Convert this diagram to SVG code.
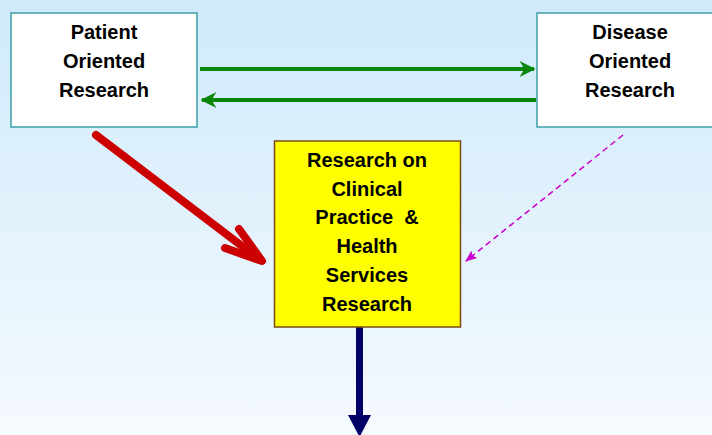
<svg xmlns="http://www.w3.org/2000/svg" width="712" height="435" viewBox="0 0 712 435">
<defs>
<linearGradient id="bg" x1="0" y1="0" x2="0" y2="1">
<stop offset="0" stop-color="#cfeafb"/>
<stop offset="1" stop-color="#f5fafe"/>
</linearGradient>
<marker id="gh" viewBox="0 0 10 10" refX="9" refY="5" markerWidth="5" markerHeight="4" orient="auto" markerUnits="strokeWidth">
<path d="M0,0 L10,5 L0,10 L3,5 Z" fill="#0a870a"/>
</marker>
<marker id="mh" viewBox="0 0 10 10" refX="9" refY="5" markerWidth="8" markerHeight="8" orient="auto" markerUnits="strokeWidth">
<path d="M0,1 L10,5 L0,9 L2,5 Z" fill="#cc00cc"/>
</marker>
<style>
.box{fill:#ffffff;stroke:#3a9fa8;stroke-width:1.5}
.t{font-family:"Liberation Sans",Arial,sans-serif;font-weight:bold;font-size:20px;fill:#000;text-anchor:middle}
</style>
</defs>
<rect x="0" y="0" width="712" height="435" fill="url(#bg)"/>
<g id="connectors">
<line x1="200" y1="69" x2="534" y2="69" stroke="#0a870a" stroke-width="4" marker-end="url(#gh)"/>
<line x1="536" y1="100" x2="202" y2="100" stroke="#0a870a" stroke-width="4" marker-end="url(#gh)"/>
<g stroke="#cc0000" stroke-width="8" stroke-linecap="round" stroke-linejoin="round" fill="none">
<line x1="96" y1="135" x2="259" y2="259"/>
<polyline points="239,229 262,261 225,248"/>
</g>
<line x1="623" y1="135" x2="466" y2="261" stroke="#cc00cc" stroke-width="1.5" stroke-dasharray="6,4" marker-end="url(#mh)"/>
<line x1="359.5" y1="327" x2="359.5" y2="416" stroke="#000066" stroke-width="7"/>
<polygon points="348,415 371,415 359.5,437" fill="#000066"/>
</g>
<g id="patient">
<rect class="box" x="11" y="13" width="186" height="114"/>
<text class="t" x="104" y="39">Patient</text>
<text class="t" x="104" y="68">Oriented</text>
<text class="t" x="104" y="97">Research</text>
</g>
<g id="disease">
<rect class="box" x="537" y="13" width="190" height="114"/>
<text class="t" x="630" y="39">Disease</text>
<text class="t" x="630" y="68">Oriented</text>
<text class="t" x="630" y="97">Research</text>
</g>
<g id="clinical">
<rect x="274.5" y="141" width="186" height="186" fill="#ffff00" stroke="#7a4a10" stroke-width="1.5"/>
<text class="t" x="367" y="167">Research on</text>
<text class="t" x="367" y="196">Clinical</text>
<text class="t" x="367" y="224" xml:space="preserve">Practice  &amp;</text>
<text class="t" x="367" y="253">Health</text>
<text class="t" x="367" y="282">Services</text>
<text class="t" x="367" y="311">Research</text>
</g>
</svg>
